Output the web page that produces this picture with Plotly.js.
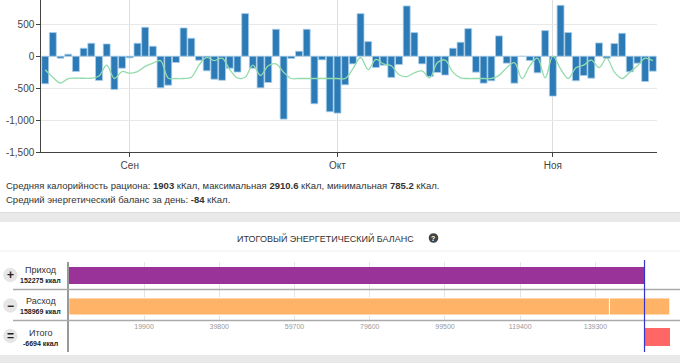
<!DOCTYPE html>
<html>
<head>
<meta charset="utf-8">
<script src="https://cdn.plot.ly/plotly-3.0.1.min.js"></script>
<style>
  html, body { margin: 0; padding: 0; background: #fff; }
  #chart { width: 680px; height: 363px; }
</style>
</head>
<body>
<div id="chart"></div>
<script>
// ---- data ----
const monthTickIndex = [12, 39, 67];
const monthLabels = ['Сен', 'Окт', 'Ноя'];

const dailyBalance = [
  -432, 370, -31, 31, -240, 125, 203, -380, 193, -521,
  -188, -26, 203, 453, 156, -495, -453, -99, 443, 281,
  -62, -229, -360, -378, -188, -248, 667, -188, -495, -412,
  422, -985, -36, 78, 422, -745, -57, -870, -891, -448,
  -120, 667, 229, -177, -141, -333, -130, 787, 370, -120,
  -318, -255, -295, 125, 219, 432, -250, -422, -385, 318,
  -109, -422, 0, -68, -260, 401, -625, 797, 370, -385,
  -302, -344, 208, -31, 198, 359, -245, -109, -396, -234
];

const trendLine = [
  -213, -330, -420, -350, -345, -345, -345, -310, -140, -349,
  -240, -266, -240, -160, -110, -70, -344, -349, -349, -330,
  -140, -20, -70, -30, -210, -340, -330, -140, -300, -150,
  -120, -250, -349, -349, -349, -349, -349, -349, -349, -349,
  -200, -20, -210, -50, -120, -150, -290, -320, -260, -230,
  -340, -100, -60, -250, -340, -349, -349, -349, -349, -300,
  -180, -100, -350, -150, -30, -340, 0, -200, -349, -180,
  -140, -60, -180, -30, -250, -349, -250, -150, -30, -70
];

const yTickVals = [500, 0, -500, -1000, -1500];
const yTickText = ['500', '0', '-500', '-1,000', '-1,500'];

const rowNames = ['Приход', 'Расход', 'Итого'];
const income = 152275;
const expense = 158969;
const expenseParts = [143000, 15969];
const total = income - expense;  // -6694
const balanceTicks = [19900, 39800, 59700, 79600, 99500, 119400, 139300, 159200];
const balanceTickText = ['19900', '39800', '59700', '79600', '99500', '119400', '139300', '159200'];

// ---- helpers (pixel -> paper) ----
const W = 680, H = 363;
const px = x => x / W;
const py = y => 1 - y / H;
const dayIdx = dailyBalance.map((_, i) => i + 1);
const FONT = 'Liberation Sans, Arial, sans-serif';

const traces = [
  {
    type: 'bar', x: dayIdx, y: dailyBalance, xaxis: 'x', yaxis: 'y',
    width: 0.9,
    marker: { color: '#2c7bb6', line: { color: '#a9cfea', width: 0.8 } },
    hoverinfo: 'skip'
  },
  {
    type: 'scatter', mode: 'lines', x: dayIdx, y: trendLine, xaxis: 'x', yaxis: 'y',
    line: { color: '#92dbab', width: 1.3, shape: 'spline', smoothing: 1 },
    hoverinfo: 'skip'
  },
  {
    type: 'bar', orientation: 'h', x: [income], y: [rowNames[0]], xaxis: 'x2', yaxis: 'y2',
    width: 0.55, marker: { color: '#993399' }, hoverinfo: 'skip'
  },
  {
    type: 'bar', orientation: 'h', x: [expenseParts[0]], y: [rowNames[1]], base: [0],
    xaxis: 'x2', yaxis: 'y2', width: 0.55,
    marker: { color: '#ffb366', line: { color: '#ffffff', width: 1 } }, hoverinfo: 'skip'
  },
  {
    type: 'bar', orientation: 'h', x: [expenseParts[1]], y: [rowNames[1]], base: [expenseParts[0]],
    xaxis: 'x2', yaxis: 'y2', width: 0.55,
    marker: { color: '#ffb366', line: { color: '#ffffff', width: 1 } }, hoverinfo: 'skip'
  },
  {
    type: 'bar', orientation: 'h', x: [Math.abs(total)], y: [rowNames[2]], base: [Math.min(income, expense)],
    xaxis: 'x3', yaxis: 'y3', width: 0.58,
    marker: { color: '#ff6666' }, hoverinfo: 'skip'
  }
];

const ann = (x, y, text, opts) => Object.assign({
  x: px(x), y: py(y), xref: 'paper', yref: 'paper', text: text, showarrow: false,
  xanchor: 'center', yanchor: 'middle', font: { family: FONT, size: 10, color: '#333' }
}, opts || {});

const fmtK = v => String(v) + ' ккал';

const annotations = [
  ann(4, 185, 'Средняя калорийность рациона: <b>1903</b> кКал, максимальная <b>2910.6</b> кКал, минимальная <b>785.2</b> кКал.', { xanchor: 'left', font: { family: FONT, size: 9.5, color: '#333' } }),
  ann(4, 199, 'Средний энергетический баланс за день: <b>-84</b> кКал.', { xanchor: 'left', font: { family: FONT, size: 9.5, color: '#333' } }),
  ann(325, 238, 'ИТОГОВЫЙ ЭНЕРГЕТИЧЕСКИЙ БАЛАНС', { font: { family: FONT, size: 9, color: '#333' } }),
  ann(433.5, 238, '<b>?</b>', { font: { family: FONT, size: 7, color: '#fff' } }),
  ann(40.5, 270, rowNames[0], { font: { family: FONT, size: 9, color: '#333' } }),
  ann(40.5, 280, '<b>' + fmtK(income) + '</b>', { font: { family: FONT, size: 7, color: '#222' } }),
  ann(40.5, 301, rowNames[1], { font: { family: FONT, size: 9, color: '#333' } }),
  ann(40.5, 311, '<b>' + fmtK(expense) + '</b>', { font: { family: FONT, size: 7, color: '#222' } }),
  ann(40.5, 333, rowNames[2], { font: { family: FONT, size: 9, color: '#333' } }),
  ann(40.5, 343, '<b>' + fmtK(total) + '</b>', { font: { family: FONT, size: 7, color: '#222' } }),
  ann(10.5, 275, '<b>+</b>', { font: { family: FONT, size: 12, color: '#222' } }),
  ann(10.5, 305.5, '<b>−</b>', { font: { family: FONT, size: 12, color: '#222' } }),
  ann(10.5, 336, '<b>=</b>', { font: { family: FONT, size: 12, color: '#222' } })
];

const circle = (cx, cy, r, fill) => ({
  type: 'circle', xref: 'paper', yref: 'paper',
  x0: px(cx - r), x1: px(cx + r), y0: py(cy + r), y1: py(cy - r),
  fillcolor: fill, line: { width: 0 }, layer: 'below'
});
const hline = (x0, x1, y, color, width) => ({
  type: 'line', xref: 'paper', yref: 'paper', x0: px(x0), x1: px(x1), y0: py(y), y1: py(y),
  line: { color: color, width: width }
});
const band = (y0, y1, color) => ({
  type: 'rect', xref: 'paper', yref: 'paper', x0: 0, x1: 1, y0: py(y1), y1: py(y0),
  fillcolor: color, line: { width: 0 }, layer: 'below'
});

const shapes = [
  band(212, 222, '#e9e9e9'),
  hline(0, 680, 212.5, '#dcdcdc', 1),
  band(355, 363, '#e9e9e9'),
  hline(0, 680, 251, '#eeeeee', 1),
  hline(13, 680, 289.5, '#aaaaaa', 1.5),
  hline(13, 680, 320.5, '#aaaaaa', 1.5),
  circle(10.3, 275, 7.2, '#e6e6e6'),
  circle(10.3, 305.5, 7.2, '#e6e6e6'),
  circle(10.3, 336, 7.2, '#e6e6e6'),
  circle(433.5, 238, 4.8, '#444444'),
  {
    type: 'line', xref: 'x2', yref: 'paper', x0: income, x1: income, y0: py(352), y1: py(260),
    line: { color: '#3535c8', width: 1.2 }
  }
];

const layout = {
  width: W, height: H,
  margin: { l: 0, r: 0, t: 0, b: 0, pad: 0 },
  paper_bgcolor: '#ffffff', plot_bgcolor: 'rgba(0,0,0,0)',
  showlegend: false, barmode: 'overlay', bargap: 0,
  font: { family: FONT, size: 10, color: '#444' },
  xaxis: {
    domain: [px(41.3), px(656.7)], anchor: 'y', range: [0.5, dayIdx.length + 0.5],
    tickmode: 'array', tickvals: monthTickIndex, ticktext: monthLabels,
    showgrid: true, gridcolor: '#dddddd', gridwidth: 1,
    showline: true, linecolor: '#444', linewidth: 1,
    ticks: 'outside', ticklen: 4, tickcolor: '#444',
    tickfont: { family: FONT, size: 10, color: '#444' },
    zeroline: false, fixedrange: true
  },
  yaxis: {
    domain: [py(152), 1], anchor: 'x', range: [-1500, 880],
    tickmode: 'array', tickvals: yTickVals, ticktext: yTickText,
    showgrid: true, gridcolor: '#e8e8e8', gridwidth: 1,
    showline: true, linecolor: '#444', linewidth: 1,
    ticks: 'outside', ticklen: 4, tickcolor: '#444',
    tickfont: { family: FONT, size: 10, color: '#444' },
    zeroline: false, fixedrange: true
  },
  xaxis2: {
    domain: [px(68.8), px(670.7)], anchor: 'y2', range: [0, 159200],
    tickmode: 'array', tickvals: balanceTicks, ticktext: balanceTickText,
    showgrid: true, gridcolor: '#e4e4e4', gridwidth: 1,
    showline: false, ticks: '', zeroline: false,
    tickfont: { family: FONT, size: 7, color: '#999' }, fixedrange: true
  },
  yaxis2: {
    domain: [py(320.5), py(262)], anchor: 'x2', type: 'category',
    categoryorder: 'array', categoryarray: [rowNames[1], rowNames[0]],
    range: [-0.452, 1.435], showticklabels: false, showgrid: false, zeroline: false,
    showline: true, linecolor: '#999', linewidth: 1.5, ticks: '', fixedrange: true
  },
  xaxis3: {
    domain: [px(68.8), px(670.7)], anchor: 'y3', range: [0, 159200],
    showticklabels: false, showgrid: false, zeroline: false, showline: false, ticks: '', fixedrange: true
  },
  yaxis3: {
    domain: [py(352), py(320.5)], anchor: 'x3', type: 'category',
    categoryorder: 'array', categoryarray: [rowNames[2]],
    range: [-0.484, 0.532], showticklabels: false, showgrid: false, zeroline: false,
    showline: true, linecolor: '#999', linewidth: 1.5, ticks: '', fixedrange: true
  },
  annotations: annotations,
  shapes: shapes
};

Plotly.newPlot('chart', traces, layout, { staticPlot: true, displayModeBar: false });
</script>
</body>
</html>
